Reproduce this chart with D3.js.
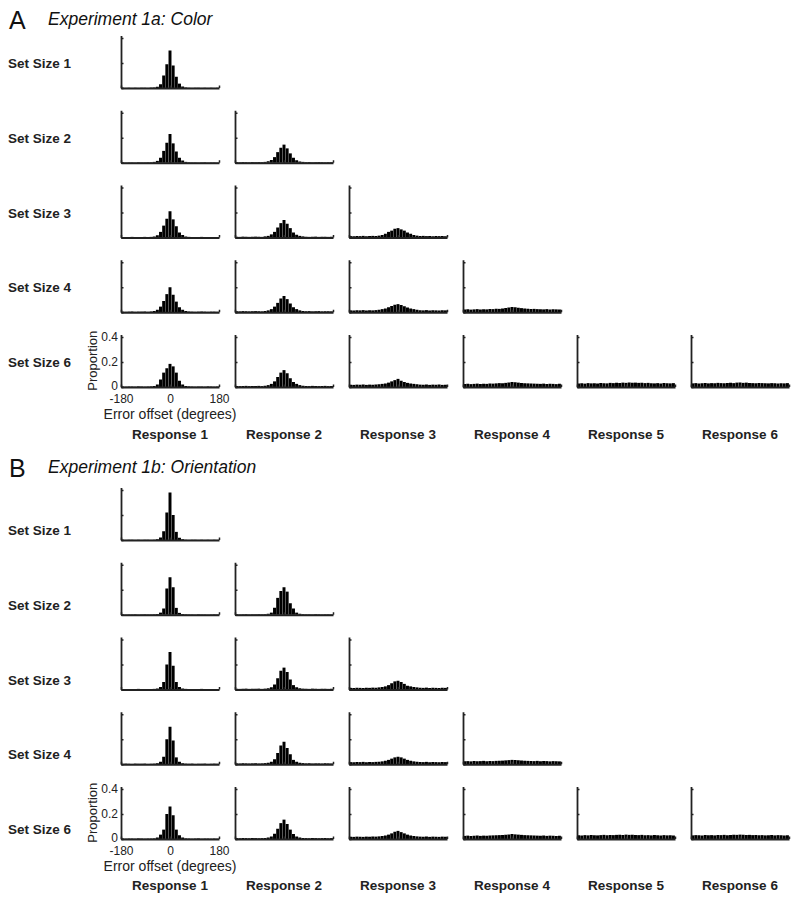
<!DOCTYPE html>
<html>
<head>
<meta charset="utf-8">
<title>Error offset histograms</title>
<script src="https://cdn.jsdelivr.net/npm/d3@7"></script>
<style>
  body { margin: 0; background: #fff; }
  text { font-family: "Liberation Sans", Arial, Helvetica, sans-serif; }
</style>
</head>
<body>
<div id="chart"></div>
<script>
// Histograms of error offset, per set size (rows) and response order (columns)

var setSizes = [1, 2, 3, 4, 6];
var responseLabels = ["Response 1", "Response 2", "Response 3", "Response 4", "Response 5", "Response 6"];
var xTicks = [-180, 0, 180];
var yTicks = [0, 0.2, 0.4];

// Experiment 1a: Color  (31 bins from -180 to 180, proportion per bin)
var colorSS1 = [
  [0.002,0.001,0.002,0.001,0.002,0.001,0.002,0.002,0.001,0.003,0.004,0.010,0.030,0.100,0.190,0.300,0.180,0.090,0.035,0.012,0.004,0.002,0.001,0.002,0.002,0.001,0.002,0.001,0.002,0.001,0.002]
];
var colorSS2 = [
  [0.003,0.002,0.003,0.003,0.002,0.004,0.003,0.003,0.004,0.004,0.007,0.015,0.040,0.095,0.160,0.230,0.155,0.090,0.040,0.018,0.007,0.004,0.003,0.003,0.002,0.003,0.004,0.002,0.003,0.003,0.002],
  [0.005,0.004,0.006,0.005,0.004,0.006,0.005,0.006,0.005,0.007,0.012,0.022,0.045,0.085,0.120,0.145,0.115,0.075,0.040,0.020,0.010,0.007,0.005,0.006,0.004,0.005,0.006,0.005,0.004,0.005,0.005]
];
var colorSS3 = [
  [0.004,0.003,0.004,0.005,0.003,0.004,0.004,0.005,0.003,0.005,0.008,0.018,0.045,0.095,0.150,0.210,0.145,0.090,0.040,0.020,0.008,0.005,0.004,0.003,0.004,0.005,0.004,0.003,0.004,0.004,0.003],
  [0.006,0.005,0.007,0.006,0.005,0.006,0.007,0.006,0.005,0.009,0.013,0.025,0.045,0.080,0.115,0.140,0.110,0.075,0.040,0.022,0.013,0.009,0.006,0.005,0.006,0.007,0.005,0.006,0.006,0.005,0.006],
  [0.011,0.010,0.012,0.011,0.013,0.010,0.012,0.013,0.012,0.015,0.020,0.030,0.045,0.055,0.070,0.075,0.065,0.055,0.040,0.030,0.020,0.015,0.012,0.013,0.011,0.012,0.010,0.012,0.011,0.012,0.010]
];
var colorSS4 = [
  [0.005,0.004,0.005,0.006,0.004,0.005,0.005,0.006,0.004,0.006,0.010,0.020,0.045,0.090,0.145,0.200,0.140,0.085,0.040,0.020,0.010,0.006,0.005,0.004,0.005,0.006,0.005,0.004,0.005,0.005,0.004],
  [0.008,0.007,0.009,0.008,0.007,0.008,0.009,0.008,0.007,0.010,0.015,0.025,0.045,0.075,0.110,0.130,0.105,0.070,0.040,0.025,0.015,0.010,0.008,0.009,0.007,0.008,0.009,0.007,0.008,0.008,0.007],
  [0.015,0.014,0.016,0.015,0.017,0.014,0.016,0.015,0.017,0.020,0.025,0.030,0.040,0.050,0.060,0.065,0.058,0.048,0.038,0.030,0.025,0.020,0.016,0.015,0.017,0.014,0.016,0.015,0.014,0.016,0.015],
  [0.022,0.024,0.021,0.023,0.025,0.022,0.024,0.023,0.026,0.025,0.028,0.027,0.030,0.034,0.038,0.042,0.040,0.036,0.033,0.030,0.028,0.026,0.027,0.025,0.024,0.023,0.025,0.022,0.024,0.023,0.022]
];
var colorSS6 = [
  [0.004,0.003,0.004,0.004,0.003,0.005,0.004,0.003,0.004,0.005,0.008,0.020,0.060,0.115,0.150,0.185,0.165,0.115,0.050,0.020,0.008,0.005,0.004,0.003,0.004,0.004,0.003,0.005,0.004,0.003,0.004],
  [0.008,0.007,0.008,0.009,0.007,0.008,0.008,0.009,0.007,0.010,0.015,0.025,0.045,0.080,0.115,0.135,0.110,0.070,0.040,0.025,0.015,0.010,0.008,0.007,0.009,0.008,0.007,0.008,0.009,0.007,0.008],
  [0.018,0.017,0.019,0.018,0.020,0.017,0.019,0.018,0.020,0.022,0.025,0.028,0.035,0.045,0.055,0.065,0.050,0.040,0.033,0.028,0.025,0.022,0.019,0.018,0.020,0.017,0.019,0.018,0.020,0.017,0.018],
  [0.024,0.026,0.023,0.025,0.027,0.024,0.026,0.025,0.028,0.027,0.029,0.031,0.030,0.033,0.036,0.040,0.038,0.035,0.032,0.030,0.029,0.028,0.027,0.026,0.025,0.027,0.024,0.026,0.025,0.023,0.026],
  [0.028,0.030,0.027,0.031,0.029,0.030,0.028,0.032,0.030,0.029,0.033,0.031,0.034,0.032,0.035,0.033,0.036,0.034,0.035,0.033,0.034,0.031,0.033,0.030,0.029,0.031,0.028,0.032,0.030,0.029,0.031],
  [0.029,0.031,0.028,0.030,0.032,0.029,0.031,0.030,0.033,0.031,0.030,0.032,0.034,0.031,0.035,0.036,0.033,0.035,0.032,0.031,0.030,0.032,0.031,0.030,0.029,0.031,0.030,0.028,0.030,0.029,0.031]
];

// Experiment 1b: Orientation
var orientSS1 = [
  [0.002,0.001,0.002,0.002,0.001,0.002,0.001,0.002,0.002,0.001,0.002,0.006,0.020,0.070,0.220,0.380,0.200,0.065,0.018,0.006,0.002,0.001,0.002,0.002,0.001,0.002,0.001,0.002,0.001,0.002,0.001]
];
var orientSS2 = [
  [0.003,0.002,0.003,0.003,0.004,0.002,0.003,0.004,0.003,0.003,0.004,0.006,0.017,0.050,0.210,0.300,0.220,0.055,0.015,0.006,0.004,0.003,0.003,0.002,0.004,0.003,0.003,0.002,0.003,0.004,0.003],
  [0.004,0.003,0.004,0.005,0.003,0.004,0.004,0.005,0.004,0.005,0.008,0.017,0.056,0.135,0.190,0.220,0.185,0.092,0.050,0.017,0.008,0.005,0.004,0.004,0.003,0.005,0.004,0.003,0.004,0.004,0.003]
];
var orientSS3 = [
  [0.004,0.003,0.004,0.004,0.003,0.005,0.004,0.003,0.004,0.004,0.005,0.008,0.020,0.060,0.200,0.300,0.190,0.060,0.020,0.008,0.005,0.004,0.003,0.004,0.004,0.005,0.003,0.004,0.004,0.003,0.004],
  [0.006,0.005,0.006,0.007,0.005,0.006,0.006,0.007,0.005,0.007,0.010,0.018,0.040,0.090,0.150,0.175,0.140,0.080,0.035,0.018,0.010,0.007,0.006,0.005,0.007,0.006,0.005,0.006,0.006,0.005,0.006],
  [0.013,0.012,0.014,0.013,0.012,0.014,0.013,0.015,0.014,0.017,0.020,0.025,0.035,0.050,0.065,0.070,0.060,0.045,0.030,0.025,0.020,0.017,0.014,0.013,0.015,0.012,0.014,0.013,0.012,0.014,0.013]
];
var orientSS4 = [
  [0.004,0.005,0.004,0.003,0.005,0.004,0.004,0.005,0.003,0.004,0.005,0.008,0.020,0.060,0.200,0.300,0.190,0.055,0.020,0.008,0.005,0.004,0.005,0.003,0.004,0.004,0.005,0.003,0.004,0.005,0.004],
  [0.007,0.006,0.008,0.007,0.006,0.007,0.008,0.006,0.007,0.009,0.012,0.020,0.040,0.090,0.150,0.180,0.130,0.080,0.035,0.020,0.012,0.009,0.007,0.008,0.006,0.007,0.007,0.006,0.008,0.007,0.006],
  [0.017,0.016,0.018,0.017,0.019,0.016,0.018,0.017,0.019,0.020,0.023,0.028,0.035,0.045,0.055,0.060,0.055,0.045,0.035,0.028,0.023,0.020,0.018,0.017,0.019,0.016,0.018,0.017,0.016,0.018,0.017],
  [0.024,0.025,0.023,0.026,0.024,0.025,0.027,0.024,0.026,0.025,0.027,0.028,0.029,0.031,0.033,0.035,0.034,0.032,0.030,0.028,0.027,0.026,0.025,0.027,0.024,0.026,0.025,0.023,0.025,0.024,0.023]
];
var orientSS6 = [
  [0.004,0.003,0.004,0.004,0.003,0.005,0.004,0.003,0.004,0.004,0.005,0.012,0.035,0.075,0.200,0.260,0.190,0.075,0.030,0.012,0.005,0.004,0.003,0.004,0.005,0.003,0.004,0.004,0.003,0.004,0.003],
  [0.007,0.006,0.008,0.007,0.006,0.008,0.007,0.006,0.007,0.008,0.012,0.020,0.042,0.082,0.127,0.155,0.120,0.075,0.040,0.020,0.012,0.008,0.007,0.006,0.008,0.007,0.006,0.007,0.008,0.006,0.007],
  [0.018,0.017,0.019,0.018,0.017,0.019,0.018,0.020,0.019,0.021,0.024,0.028,0.035,0.045,0.058,0.065,0.055,0.045,0.035,0.028,0.024,0.021,0.019,0.018,0.020,0.017,0.019,0.018,0.017,0.019,0.018],
  [0.025,0.027,0.024,0.026,0.028,0.025,0.027,0.026,0.028,0.029,0.030,0.031,0.032,0.034,0.036,0.040,0.037,0.035,0.033,0.031,0.030,0.029,0.028,0.027,0.026,0.028,0.025,0.027,0.026,0.024,0.026],
  [0.030,0.028,0.031,0.029,0.032,0.030,0.029,0.031,0.033,0.030,0.032,0.031,0.033,0.034,0.032,0.035,0.033,0.034,0.032,0.031,0.033,0.030,0.031,0.029,0.032,0.030,0.028,0.031,0.029,0.030,0.028],
  [0.029,0.031,0.030,0.028,0.032,0.030,0.031,0.029,0.032,0.031,0.033,0.030,0.032,0.034,0.033,0.035,0.034,0.032,0.033,0.031,0.032,0.030,0.031,0.029,0.030,0.032,0.029,0.031,0.030,0.028,0.030]
];

var panels = [
  { letter: "A", title: "Experiment 1a: Color", rows: [colorSS1, colorSS2, colorSS3, colorSS4, colorSS6],
    base: 88, letterY: 29, titleY: 25, labelDy: -20, responseY: 439 },
  { letter: "B", title: "Experiment 1b: Orientation", rows: [orientSS1, orientSS2, orientSS3, orientSS4, orientSS6],
    base: 540, letterY: 477, titleY: 473, labelDy: -5, responseY: 890 }
];

// Chart area
var svgWidth = 800;
var svgHeight = 903;
var plotW = 98;
var plotH = 52.5;
var colX0 = 121;
var colStep = 114;
var rowStep = 74.75;
var ink = "#222";

var svg = d3.select("#chart")
  .append("svg")
  .attr("width", svgWidth)
  .attr("height", svgHeight);

var xScale = d3.scaleLinear().domain([-180, 180]).range([0, plotW]);
var yScale = d3.scaleLinear().domain([0, 0.42]).range([plotH, 0]);

var nBins = colorSS1[0].length;
var edges = d3.range(nBins + 1).map(i => -180 + i * 360 / nBins);

panels.forEach(function(panel) {

  // panel letter and title
  svg.append("text")
    .attr("x", 9)
    .attr("y", panel.letterY)
    .attr("font-size", "25px")
    .attr("fill", "#111")
    .text(panel.letter);

  svg.append("text")
    .attr("x", 48)
    .attr("y", panel.titleY)
    .attr("font-size", "17.5px")
    .attr("font-style", "italic")
    .attr("fill", "#111")
    .text(panel.title);

  panel.rows.forEach(function(row, r) {
    var baseY = panel.base + r * rowStep;
    var lastRow = r === panel.rows.length - 1;

    svg.append("text")
      .attr("x", 8)
      .attr("y", baseY + panel.labelDy)
      .attr("font-size", "13.5px")
      .attr("font-weight", "bold")
      .attr("fill", ink)
      .text("Set Size " + setSizes[r]);

    row.forEach(function(values, c) {
      var g = svg.append("g")
        .attr("transform", `translate(${colX0 + c * colStep}, ${baseY - plotH})`);

      // bars
      g.selectAll("rect")
        .data(values)
        .join("rect")
        .attr("x", (d, i) => xScale(edges[i]) + 0.1)
        .attr("width", (d, i) => xScale(edges[i + 1]) - xScale(edges[i]) - 0.2)
        .attr("y", d => yScale(d))
        .attr("height", d => plotH - yScale(d))
        .attr("fill", "#000");

      var labelled = lastRow && c === 0;

      var bottomAxis = d3.axisBottom(xScale)
        .tickValues(xTicks)
        .tickSizeInner(-2.5)
        .tickSizeOuter(0)
        .tickPadding(7.5)
        .tickFormat(labelled ? (d => String(d)) : "");

      var leftAxis = d3.axisLeft(yScale)
        .tickValues(yTicks)
        .tickSizeInner(-2.5)
        .tickSizeOuter(0)
        .tickPadding(3)
        .tickFormat(labelled ? (d => d === 0 ? "0" : d.toFixed(1)) : "");

      var xg = g.append("g")
        .attr("transform", `translate(0, ${plotH})`)
        .call(bottomAxis);
      var yg = g.append("g").call(leftAxis);

      [xg, yg].forEach(function(ax) {
        ax.select(".domain").attr("stroke", ink).attr("stroke-width", 1.8);
        ax.selectAll(".tick line").attr("stroke", ink).attr("stroke-width", 1.5);
        ax.selectAll(".tick text")
          .attr("fill", ink)
          .attr("font-size", "12px")
          .attr("font-family", "\"Liberation Sans\", Arial, sans-serif");
      });

      // keep the lowest y label clear of the x labels
      yg.selectAll(".tick text").filter(d => d === 0).attr("dy", "0.2em");

      if (labelled) {
        g.append("text")
          .attr("transform", `translate(-24, ${plotH / 2}) rotate(-90)`)
          .attr("text-anchor", "middle")
          .attr("font-size", "13px")
          .attr("fill", ink)
          .text("Proportion");

        g.append("text")
          .attr("x", plotW / 2)
          .attr("y", plotH + 32)
          .attr("text-anchor", "middle")
          .attr("font-size", "14px")
          .attr("fill", ink)
          .text("Error offset (degrees)");
      }
    });
  });

  // response column labels
  svg.selectAll(null)
    .data(responseLabels)
    .join("text")
    .attr("x", (d, i) => colX0 + i * colStep + plotW / 2)
    .attr("y", panel.responseY)
    .attr("text-anchor", "middle")
    .attr("font-size", "13.5px")
    .attr("font-weight", "bold")
    .attr("fill", ink)
    .text(d => d);
});
</script>
</body>
</html>
